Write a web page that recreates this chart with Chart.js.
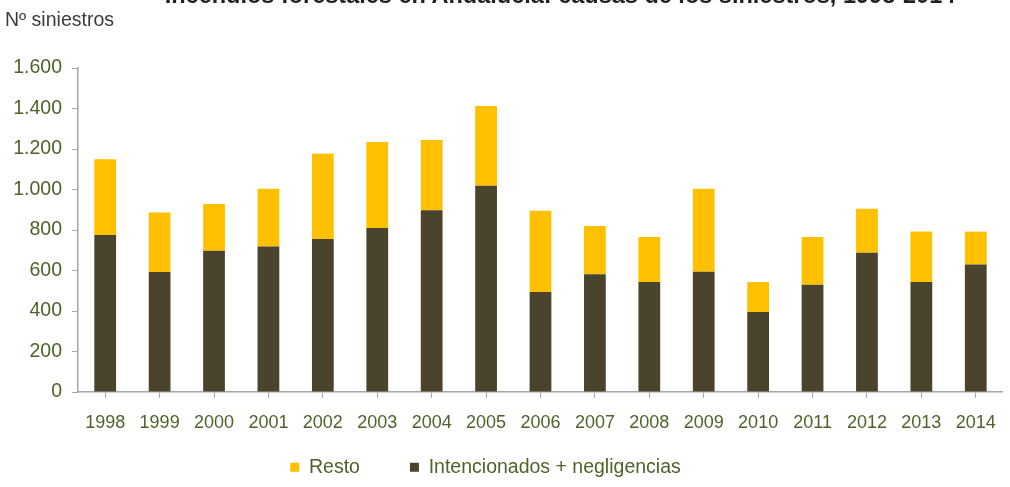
<!DOCTYPE html>
<html>
<head>
<meta charset="utf-8">
<script src="https://cdn.jsdelivr.net/npm/chart.js@4.4.1/dist/chart.umd.min.js"></script>
<style>
  html, body { margin: 0; padding: 0; background: #fff; overflow: hidden; }
  #wrap { position: relative; width: 1010px; height: 487px; }
  #title { position: absolute; top: -18px; left: 160px; width: 800px; text-align: center;
    font: bold 23.5px 'Liberation Sans', Arial, sans-serif; color: #222; white-space: nowrap; }
  #ylabel { position: absolute; top: 8px; left: 5px; font: 19.5px 'Liberation Sans', Arial, sans-serif; color: #3a3a3a; }
</style>
</head>
<body>
<div id="wrap">
  <canvas id="c" width="1010" height="487"></canvas>
  <div id="title">Incendios forestales en Andalucía: causas de los siniestros, 1998-2014</div>
  <div id="ylabel">Nº siniestros</div>
</div>
<script>
// años y siniestros
const years = ['1998','1999','2000','2001','2002','2003','2004','2005','2006','2007','2008','2009','2010','2011','2012','2013','2014'];
const intencionados = [775, 593, 698, 719, 755, 810, 897, 1019, 494, 581, 543, 594, 395, 530, 688, 543, 630];
const resto = [375, 294, 230, 285, 422, 425, 347, 393, 401, 239, 222, 410, 148, 235, 217, 249, 162];
const yTicks = [0, 200, 400, 600, 800, 1000, 1200, 1400, 1600];

const OLIVE = '#4f6228';
const AXIS = '#a6a6a6';
const FONT = "'Liberation Sans', Arial, sans-serif";

function fmt(v) {
  return String(v).replace(/\B(?=(\d{3})+(?!\d))/g, '.');
}

// legend in the original sits a little left of the page centre
const legendNudge = {
  id: 'legendNudge',
  beforeDraw(chart) { chart.legend.right -= 32; },
};

new Chart(document.getElementById('c'), {
  type: 'bar',
  data: {
    labels: years,
    datasets: [
      { label: 'Intencionados + negligencias', data: intencionados, backgroundColor: '#4a442d', barPercentage: 0.4, categoryPercentage: 1 },
      { label: 'Resto', data: resto, backgroundColor: '#ffc000', barPercentage: 0.4, categoryPercentage: 1 },
    ],
  },
  plugins: [legendNudge],
  options: {
    responsive: false,
    animation: false,
    layout: { padding: { top: 68, right: 7, left: 0, bottom: 0 } },
    plugins: {
      tooltip: { enabled: false },
      legend: {
        position: 'bottom',
        reverse: true,
        labels: { color: OLIVE, boxWidth: 9, boxHeight: 9, padding: 50, font: { family: FONT, size: 19.5 } },
      },
    },
    scales: {
      x: {
        stacked: true,
        // short axis box so the legend sits closer; labels may spill below it
        afterFit: s => { s.height = 15.5; s._computeLabelArea = () => undefined; },
        grid: { display: true, drawOnChartArea: false, offset: false, color: AXIS, tickLength: 6 },
        border: { color: AXIS, width: 1.5 },
        ticks: { color: OLIVE, font: { family: FONT, size: 18 }, padding: 14, maxRotation: 0 },
      },
      y: {
        stacked: true,
        min: 0,
        max: 1600,
        afterBuildTicks: axis => { axis.ticks = yTicks.map(v => ({ value: v })); },
        afterFit: s => { s.width = 78; },
        grid: { display: true, drawOnChartArea: false, color: AXIS, tickLength: 6 },
        border: { color: AXIS, width: 1.5 },
        ticks: { color: OLIVE, font: { family: FONT, size: 19.5 }, padding: 10, callback: v => fmt(v) },
      },
    },
  },
});
</script>
</body>
</html>
